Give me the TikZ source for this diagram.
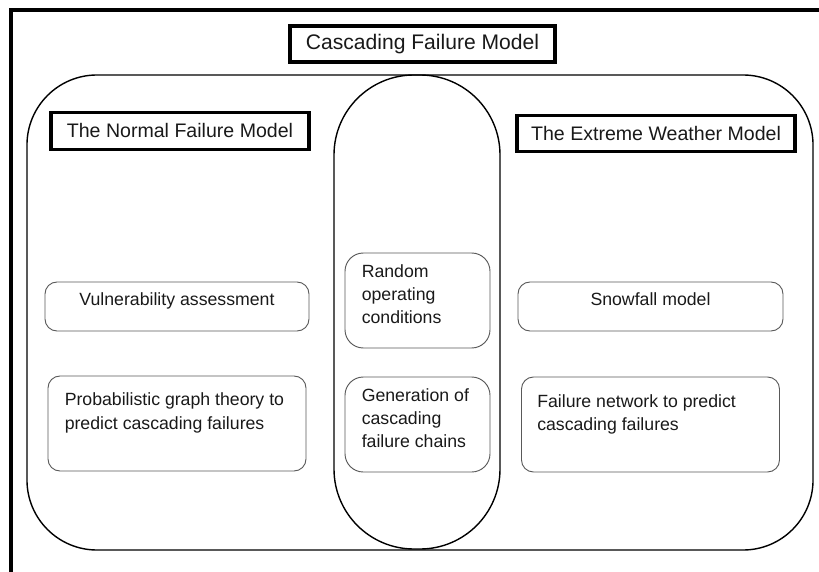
\documentclass[tikz,border=0pt]{standalone}
\usepackage{fontspec}
\setmainfont{Liberation Sans}
\usepackage{tikz}
\usetikzlibrary{positioning}
\tikzstyle{frame} = [draw, line width=2.7pt]
\tikzstyle{panel} = [rectangle, draw, line width=1.2pt, rounded corners=2.1cm,
    minimum width=23.58cm, minimum height=14.25cm]
\tikzstyle{lane} = [rectangle, draw, line width=1.2pt, rounded corners=2.4cm,
    minimum width=4.98cm, minimum height=14.22cm]
\tikzstyle{titlebox} = [rectangle, draw, line width=2.7pt, text=black!90,
    font=\fontsize{18}{21}\selectfont, minimum height=1.08cm]
\tikzstyle{headbox} = [rectangle, draw, line width=2.7pt, text=black!90,
    font=\fontsize{16.7}{20}\selectfont, minimum height=1.1cm]
\tikzstyle{item} = [rectangle, draw=black!65, line width=0.8pt, rounded corners=0.36cm]
\tikzstyle{lanebox} = [item, rounded corners=0.55cm, minimum width=4.35cm, minimum height=2.85cm]
\tikzstyle{itemtext} = [inner sep=0pt, align=left, text=black!90,
    font=\fontsize{15.1}{19.8}\selectfont]

\begin{document}
\begin{tikzpicture}[x=0.03cm, y=-0.03cm, node distance=3.51cm]
	\useasboundingbox (0,0) rectangle (819,572);
	\draw[frame] (11,580) -- (11,10) -- (830,10);

	% Outer shapes
	\node [panel] (panel) at (420,312.5) {};
	\node [lane] (lane) at (417,312) {};

	% Headings
	\node [titlebox, minimum width=7.95cm] (title) at (422.5,44) {Cascading Failure Model};
	\node [headbox, minimum width=7.74cm] (normal) at (180,131) {The Normal Failure Model};
	\node [headbox, minimum width=8.34cm] (extreme) at (656,133.5) {The Extreme Weather Model};

	% Normal failure side
	\node [item, minimum width=7.92cm, minimum height=1.47cm] (vulBox) at (177,306.5) {};
	\node [item, minimum width=7.74cm, minimum height=2.85cm, below of=vulBox] (probBox) {};
	\node [itemtext, below=0.32cm of vulBox.north] (vul) {Vulnerability assessment};
	\node [itemtext, below right=0.52cm and 0.51cm of probBox.north west] (prob)
		{Probabilistic graph theory to\\predict cascading failures};

	% Middle lane
	\node [lanebox] (randomBox) at (417.5,300.5) {};
	\node [lanebox, below of=randomBox, node distance=3.72cm] (chainBox) {};
	\node [itemtext, below right=0.35cm and 0.51cm of randomBox.north west] (random)
		{Random\\operating\\conditions};
	\node [itemtext, below right=0.35cm and 0.51cm of chainBox.north west] (chain)
		{Generation of\\cascading\\failure chains};

	% Extreme weather side
	\node [item, minimum width=7.95cm, minimum height=1.47cm] (snowBox) at (650.5,306.5) {};
	\node [item, minimum width=7.74cm, minimum height=2.85cm, below of=snowBox, node distance=3.54cm] (netBox) {};
	\node [itemtext, below=0.32cm of snowBox.north] (snow) {Snowfall model};
	\node [itemtext, below right=0.53cm and 0.48cm of netBox.north west] (net)
		{Failure network to predict\\cascading failures};
\end{tikzpicture}
\end{document}
